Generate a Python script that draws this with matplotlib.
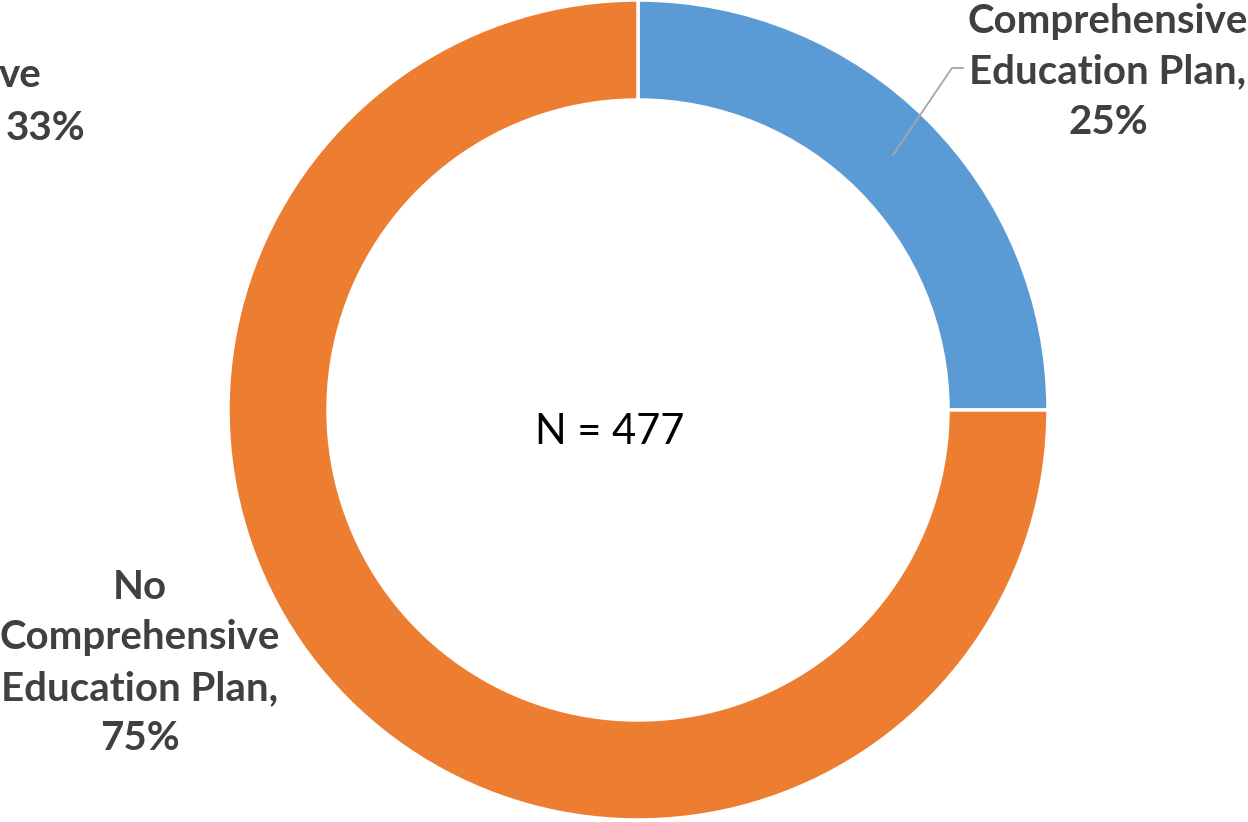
import matplotlib
matplotlib.use("Agg")
import matplotlib.pyplot as plt

categories = ["Comprehensive\nEducation Plan,", "No\nComprehensive\nEducation Plan,"]
values = [25, 75]
colors = ["#5B9BD5", "#ED7D31"]
center_label = "N = 477"

W, H = 1248, 822
fig = plt.figure(figsize=(W / 100, H / 100), dpi=100)
ax = fig.add_axes([0, 0, 1, 1])

cx, cy, R, width = 638, H - 410, 410, 100
wedges, _ = ax.pie(values, colors=colors, startangle=90, counterclock=False,
                   center=(cx, cy), radius=R, frame=True,
                   wedgeprops=dict(width=width, edgecolor="white", linewidth=2.5))
ax.set_xlim(0, W)
ax.set_ylim(0, H)
ax.set_aspect("equal")
ax.axis("off")

tc = "#404040"
fam = ["Lato", "DejaVu Sans"]
fs = 29
total = sum(values)
lab1 = f"{categories[0]}\n{round(values[0] / total * 100)}%"
lab2 = f"{categories[1]}\n{round(values[1] / total * 100)}%"
ax.text(1108, H - 72, lab1, ha="center", va="center", fontsize=fs, fontweight="bold",
        color=tc, family=fam, linespacing=1.45)
ax.text(140, H - 663, lab2, ha="center", va="center", fontsize=fs, fontweight="bold",
        color=tc, family=fam, linespacing=1.45)
# clipped label at the top left
ax.text(42, H - 75, "ve", ha="right", va="center", fontsize=fs, fontweight="bold",
        color=tc, family=fam)
ax.text(46, H - 128, "33%", ha="center", va="center", fontsize=fs, fontweight="bold",
        color=tc, family=fam)
# leader line
ax.plot([893, 952, 963], [H - 155, H - 68, H - 68], color="#A6A6A6", lw=1.3)

ax.text(cx - 28, H - 432, center_label, ha="center", va="center", fontsize=30,
        color="black", family=fam)

fig.savefig("out.png", dpi=100, facecolor="white")
